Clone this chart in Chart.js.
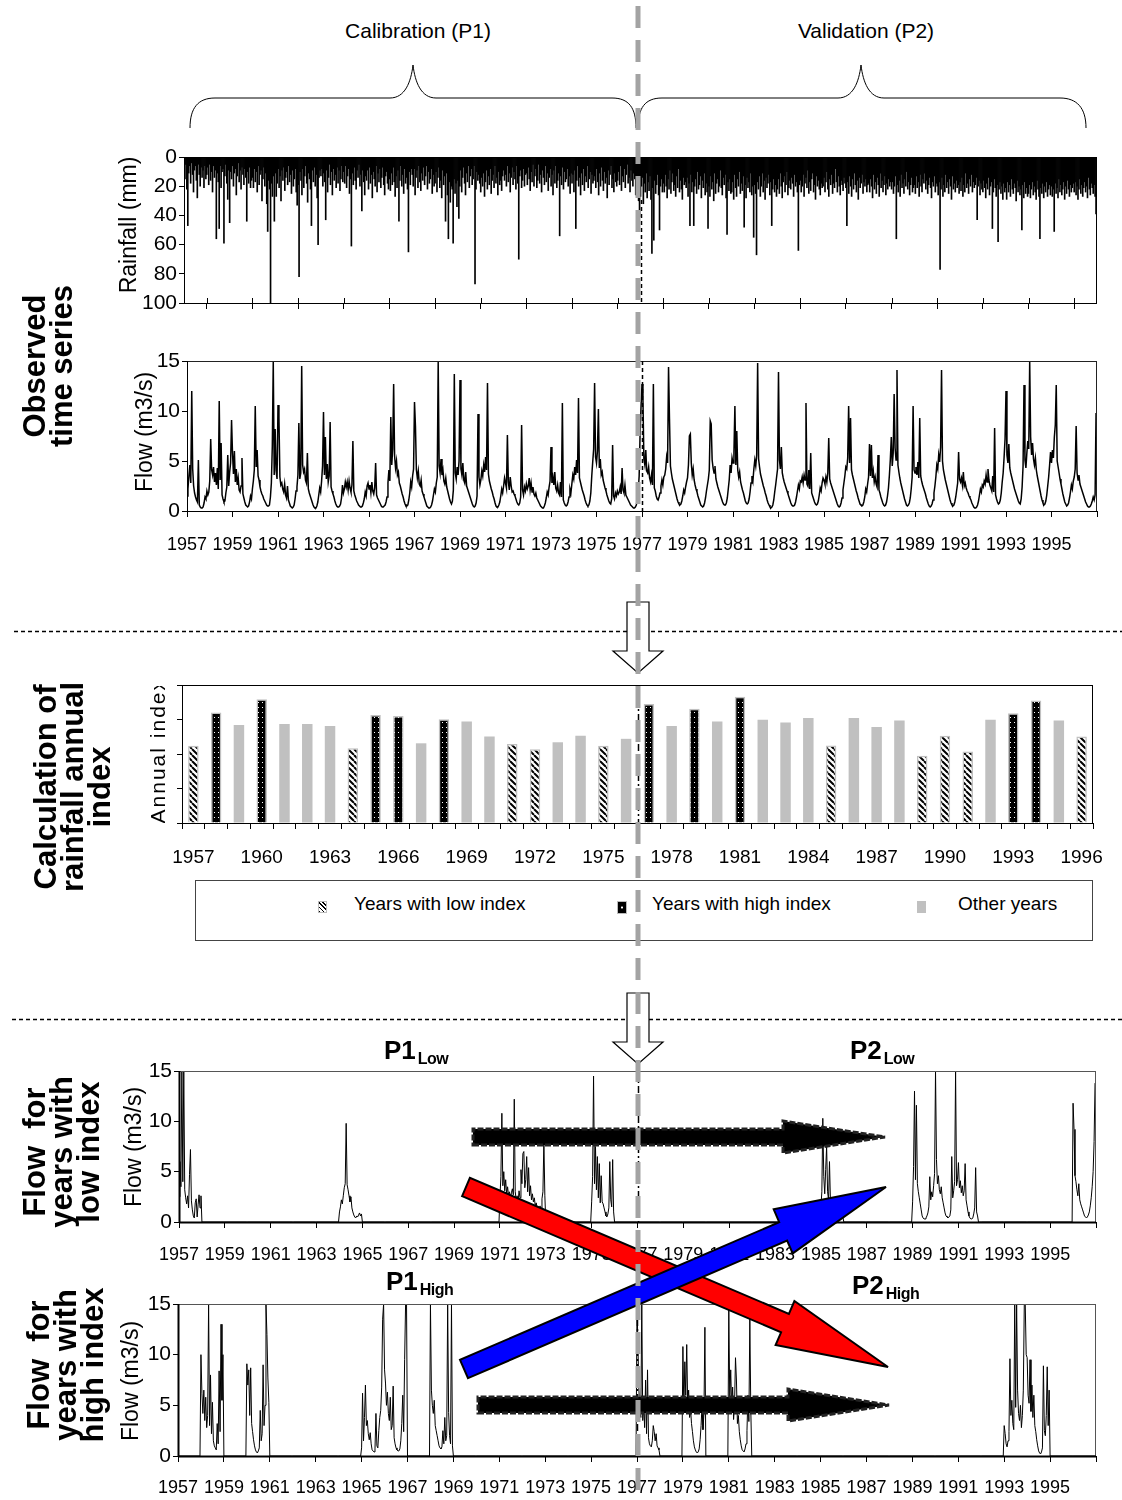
<!DOCTYPE html>
<html>
<head>
<meta charset="utf-8">
<script src="https://cdn.jsdelivr.net/npm/chart.js@4.4.1/dist/chart.umd.min.js"></script>
<style>
body { margin: 0; background: #fff; }
#page { position: relative; width: 1122px; height: 1500px; overflow: hidden; font-family: "Liberation Sans", Arial, sans-serif; color: #000; }
.box { position: absolute; left: 0; }
.txt { position: absolute; white-space: nowrap; }
.c { transform: translate(-50%, -50%); }
.rot { transform: translate(-50%, -50%) rotate(-90deg); text-align: center; }
.big { font-weight: bold; font-size: 31px; line-height: 27px; }
.ax { font-size: 23px; }
.top { font-size: 21px; }
.plab { font-weight: bold; font-size: 26px; line-height: 26px; }
.plab span { font-size: 16px; letter-spacing: -0.5px; position: relative; top: 5px; margin-left: 2px; }
#legend { position: absolute; left: 195px; top: 880px; width: 898px; height: 61px; box-sizing: border-box; border: 1px solid #444; }
#legend .sw { position: absolute; top: 20px; width: 9px; height: 12px; box-sizing: border-box; border: 1px solid #bbb; }
#legend .lt { position: absolute; top: 12px; font-size: 19px; }
#overlay { position: absolute; left: 0; top: 0; pointer-events: none; }
</style>
</head>
<body>
<div id="page">
  <div class="box" style="top:130px"><canvas id="rainChart" width="1122" height="190"></canvas></div>
  <div class="box" style="top:335px"><canvas id="flowChart" width="1122" height="230"></canvas></div>
  <div class="box" style="top:665px"><canvas id="indexChart" width="1122" height="215"></canvas></div>
  <div class="box" style="top:1040px"><canvas id="lowChart" width="1122" height="235"></canvas></div>
  <div class="box" style="top:1282px"><canvas id="highChart" width="1122" height="220"></canvas></div>

  <div class="txt c top" style="left:418px;top:31px">Calibration (P1)</div>
  <div class="txt c top" style="left:866px;top:31px">Validation (P2)</div>

  <div class="txt rot ax" style="left:128px;top:225px">Rainfall (mm)</div>
  <div class="txt rot ax" style="left:144px;top:432px">Flow (m3/s)</div>
  <div style="position:absolute;left:146px;top:686px;width:28px;height:137px;overflow:hidden">
    <div style="position:absolute;bottom:0;left:0;font-size:21px;writing-mode:vertical-rl;transform:rotate(180deg);letter-spacing:2px;white-space:nowrap">Annual index</div>
  </div>
  <div class="txt rot ax" style="left:133px;top:1147px">Flow (m3/s)</div>
  <div class="txt rot ax" style="left:130px;top:1381px">Flow (m3/s)</div>

  <div class="txt rot big" style="left:48px;top:366px">Observed<br>time series</div>
  <div class="txt rot big" style="left:72px;top:787px">Calculation of<br>rainfall annual<br>index</div>
  <div class="txt rot big" style="left:61px;top:1152px">Flow&nbsp;&nbsp;for<br>years with<br>low index</div>
  <div class="txt rot big" style="left:65px;top:1365px">Flow&nbsp;&nbsp;for<br>years with<br>high index</div>

  <div class="txt plab" style="left:384px;top:1037px">P1<span>Low</span></div>
  <div class="txt plab" style="left:850px;top:1037px">P2<span>Low</span></div>
  <div class="txt plab" style="left:386px;top:1268px">P1<span>High</span></div>
  <div class="txt plab" style="left:852px;top:1272px">P2<span>High</span></div>

  <div id="legend">
    <div class="sw" style="left:122px;background:repeating-linear-gradient(45deg,#000 0 1.2px,#fff 1.2px 3px)"></div>
    <div class="lt" style="left:158px">Years with low index</div>
    <div class="sw" style="left:421px;width:10px;height:13px;background:#000 radial-gradient(circle at 50% 50%,#fff 0 1px,#000 1.2px)"></div>
    <div class="lt" style="left:456px">Years with high index</div>
    <div class="sw" style="left:721px;background:#c0c0c0;border-color:#c0c0c0"></div>
    <div class="lt" style="left:762px">Other years</div>
  </div>

  <svg id="overlay" width="1122" height="1500"></svg>
</div>

<script>
// ---- data ----
const indexYears = [1957, 1958, 1959, 1960, 1961, 1962, 1963, 1964, 1965, 1966,
  1967, 1968, 1969, 1970, 1971, 1972, 1973, 1974, 1975, 1976,
  1977, 1978, 1979, 1980, 1981, 1982, 1983, 1984, 1985, 1986,
  1987, 1988, 1989, 1990, 1991, 1992, 1993, 1994, 1995, 1996];

// annual rainfall index (axis has no tick labels, read in tick units 0-4)
const indexValues = [2.24, 3.20, 2.84, 3.59, 2.87, 2.87, 2.81, 2.17, 3.13, 3.10,
  2.31, 3.01, 2.94, 2.51, 2.29, 2.14, 2.34, 2.53, 2.24, 2.44,
  3.45, 2.81, 3.31, 2.94, 3.66, 2.99, 2.91, 3.04, 2.25, 3.04,
  2.78, 2.97, 1.95, 2.53, 2.07, 2.99, 3.18, 3.55, 2.97, 2.51];

// L = low index, H = high index, O = other years
const indexClass = ['L', 'H', 'O', 'H', 'O', 'O', 'O', 'L', 'H', 'H',
  'O', 'H', 'O', 'O', 'L', 'L', 'O', 'O', 'L', 'O',
  'H', 'O', 'H', 'O', 'H', 'O', 'O', 'O', 'L', 'O',
  'O', 'O', 'L', 'L', 'L', 'O', 'H', 'H', 'O', 'L'];

const splitYear = 1977;
const xTickYears = [1957, 1959, 1961, 1963, 1965, 1967, 1969, 1971, 1973, 1975,
  1977, 1979, 1981, 1983, 1985, 1987, 1989, 1991, 1993, 1995];

// half-monthly rainfall maxima (mm), one row per year 1957-1996
const rainObserved = [
  "8 15 5 22 47 11 6 18 4 12 24 9 6 16 28 5 12 20 7 14 9 21 6 15",
  "12 7 19 5 16 10 24 6 14 9 56 11 17 49 6 21 10 8 59 13 5 18 29 9",
  "45 10 15 6 20 11 8 26 13 4 17 9 22 7 12 19 8 14 44 10 18 7 21 16",
  "14 21 8 17 10 24 6 19 12 9 30 15 7 20 11 32 51 16 22 100 18 27 13 44",
  "11 27 18 8 21 13 30 9 16 7 23 14 10 19 6 17 12 25 9 20 15 8 24 33",
  "19 82 10 16 26 8 21 13 6 18 31 11 15 22 47 9 17 7 20 12 28 60 14 9",
  "13 8 20 11 17 43 9 24 14 5 19 10 26 8 16 12 21 7 18 9 23 15 6 17",
  "10 18 6 21 13 8 25 15 61 11 19 7 16 22 9 14 5 20 12 37 9 17 26 13",
  "16 9 22 7 18 12 28 10 15 20 6 24 11 17 8 21 14 7 19 26 13 10 18 22",
  "15 23 11 19 7 17 27 13 21 9 44 16 6 20 12 25 8 18 14 22 65 10 19 8",
  "12 20 8 26 14 9 21 6 17 23 11 16 7 19 13 6 22 10 18 15 8 25 12 20",
  "18 10 24 14 7 21 16 28 9 19 13 44 11 26 56 17 31 20 22 59 15 25 18 34",
  "16 42 20 9 24 14 7 18 26 11 17 6 21 13 8 19 15 6 87 22 10 16 12 18",
  "24 14 20 11 27 17 9 22 13 19 8 25 16 12 21 6 18 14 26 10 19 16 23 13",
  "9 16 12 20 6 17 11 24 14 7 19 10 15 22 6 18 70 13 9 21 16 8 20 12",
  "11 19 7 15 23 10 17 5 20 13 8 21 16 5 18 12 24 9 14 19 6 17 11 23",
  "14 8 20 12 26 9 18 6 21 16 11 54 13 19 7 22 10 17 15 8 20 13 25 11",
  "18 12 24 9 49 16 6 20 14 26 11 19 8 23 13 17 6 21 15 10 25 12 18 16",
  "13 21 8 17 26 11 20 7 16 23 10 18 14 28 9 19 12 6 21 15 24 11 17 20",
  "16 10 19 6 23 13 17 8 21 12 5 18 14 24 9 16 20 11 15 26 18 23 30 41",
  "27 20 14 32 18 24 11 28 17 23 13 29 66 21 57 16 25 19 12 26 50 20 15 24",
  "18 24 12 20 28 15 22 9 25 17 11 23 19 27 13 21 8 24 16 22 29 14 19 17",
  "21 14 27 18 47 12 24 17 47 20 15 25 10 22 19 13 28 16 21 11 26 18 24 49",
  "20 27 13 22 17 30 11 25 18 15 24 20 9 21 26 14 19 12 28 53 17 23 15 25",
  "24 17 29 12 21 27 15 20 10 25 18 23 13 48 19 28 14 21 17 24 11 26 20 55",
  "19 25 67 17 22 13 27 20 11 24 16 29 14 21 18 12 26 17 47 22 15 24 19 27",
  "22 15 25 11 20 28 17 13 24 19 10 26 21 16 22 14 18 27 12 20 17 24 64 19",
  "16 24 20 12 27 18 14 21 9 25 17 23 15 11 24 19 29 13 20 16 22 26 18 21",
  "20 14 24 17 10 22 27 15 19 12 25 18 21 8 17 24 13 20 26 16 19 23 14 18",
  "21 47 17 25 13 20 27 15 22 11 19 24 16 29 14 21 18 12 25 17 20 15 24 19",
  "18 24 15 20 28 12 22 17 25 14 19 27 11 21 16 24 19 13 26 18 22 15 20 17",
  "22 17 25 20 13 56 19 24 16 27 12 21 18 25 15 20 10 22 17 26 19 14 24 21",
  "19 25 13 21 17 27 12 20 24 15 18 11 22 16 25 19 14 21 28 17 20 13 24 18",
  "20 26 17 77 22 14 27 19 24 12 21 17 25 15 20 29 13 22 18 24 16 21 19 25",
  "17 23 14 27 19 24 11 21 18 25 15 20 12 24 17 21 19 14 43 20 16 26 18 22",
  "24 16 21 28 18 22 14 26 20 17 49 24 15 21 27 19 58 22 17 25 20 29 18 24",
  "21 29 17 24 19 27 15 22 25 18 21 30 16 24 20 26 22 50 19 28 17 25 21 27",
  "25 19 28 22 17 26 20 24 29 16 22 27 56 21 25 18 28 20 24 17 27 22 19 26",
  "20 27 22 51 18 25 21 28 15 24 19 26 22 17 29 20 25 16 22 27 19 24 21 18",
  "24 17 26 20 29 22 15 25 19 27 21 17 24 20 28 14 22 26 18 21 25 19 27 39"
];

// half-monthly observed flow (m3/s), one row per year 1957-1996
const flowObserved = [
  "1.5 2.2 3.5 4.6 2.8 12.0 4.2 2.5 1.8 1.4 1.1 0.9 5.1 0.6 0.4 0.3 0.3 0.4 0.8 1.4 1.2 2.0 1.6 1.9",
  "3.0 7.2 4.1 3.6 4.4 2.9 3.8 2.6 4.3 2.2 11.0 3.1 6.8 1.6 1.2 0.9 1.0 1.8 2.4 5.6 2.5 3.9 4.8 9.1",
  "5.8 3.7 6.0 2.9 4.2 2.6 3.3 2.1 1.9 2.5 5.3 1.7 1.3 0.9 0.6 0.5 0.4 0.5 0.9 1.5 1.2 2.2 3.0 4.1",
  "10.5 4.4 6.1 3.5 3.1 2.4 2.0 1.7 1.5 1.2 1.0 0.8 0.6 0.5 0.5 0.6 1.4 2.8 6.5 14.9 3.6 8.2 4.0 3.2",
  "10.6 9.3 3.4 2.6 2.8 2.2 1.9 2.7 1.6 1.3 2.5 1.1 0.8 0.5 0.4 0.3 0.4 0.6 1.2 2.0 2.4 3.6 8.8 3.2",
  "3.8 14.5 4.6 3.9 4.2 3.1 2.8 5.8 2.2 1.8 1.5 1.2 0.9 0.6 0.4 0.3 0.3 0.5 0.9 1.6 2.3 1.9 3.0 4.5",
  "9.9 3.6 7.4 3.2 4.7 2.9 3.5 8.9 2.4 2.0 1.7 1.4 1.0 0.7 0.5 0.4 0.4 0.5 0.7 1.3 2.6 1.8 2.2 2.9",
  "2.4 2.9 2.1 3.0 2.3 1.9 2.6 7.0 2.0 1.6 1.3 1.0 0.8 0.6 0.5 0.4 0.4 0.5 0.8 1.2 1.9 1.5 2.5 2.8",
  "2.2 2.6 1.8 2.9 2.0 1.7 2.3 4.8 1.6 1.3 1.1 0.9 0.7 0.5 0.4 0.4 0.5 0.6 0.9 1.4 2.8 4.1 3.0 9.4",
  "4.6 6.2 12.7 5.5 4.3 5.0 3.6 3.9 2.8 2.5 2.1 1.7 1.4 1.0 0.7 0.5 0.5 0.6 1.1 1.8 2.9 2.4 3.5 4.2",
  "10.9 8.5 4.1 3.3 4.0 2.7 2.5 3.1 2.0 1.7 1.4 1.1 0.8 0.5 0.4 0.3 0.3 0.4 0.6 1.0 1.6 2.2 1.9 2.8",
  "3.4 14.9 4.5 3.8 5.2 3.6 4.1 3.0 2.7 3.3 2.4 2.0 1.6 1.2 0.9 0.7 1.0 2.1 13.7 3.8 3.2 4.4 3.6 5.0",
  "13.1 4.2 3.6 4.8 3.1 2.8 3.9 2.5 2.2 1.9 1.6 1.3 1.0 0.7 0.5 0.4 0.5 0.8 1.5 9.7 3.4 2.6 3.1 4.0",
  "3.5 4.6 3.9 5.4 4.1 12.8 3.7 3.0 2.6 2.2 1.9 1.5 1.2 0.8 0.5 0.4 0.4 0.6 0.9 1.5 2.2 1.8 2.5 3.3",
  "2.8 2.3 7.6 2.9 2.1 3.4 2.5 1.9 2.0 1.7 1.5 1.2 0.9 0.7 0.6 0.8 1.4 8.6 2.1 1.6 2.4 2.0 2.7 2.2",
  "2.5 3.3 2.1 2.8 1.9 2.4 1.7 1.5 1.8 1.3 1.1 0.9 0.7 0.5 0.4 0.3 0.3 0.5 0.8 1.3 1.9 1.6 2.4 3.0",
  "6.4 2.8 3.4 2.6 3.9 2.3 2.0 2.6 1.8 1.6 2.9 1.4 10.8 1.1 0.8 0.6 0.5 0.6 0.9 1.4 2.2 1.8 2.7 3.6",
  "3.2 4.4 3.6 5.1 3.8 11.3 3.3 2.9 2.5 2.1 1.8 1.5 1.1 0.8 0.6 0.5 0.6 1.0 1.8 3.5 4.9 6.2 12.8 5.4",
  "4.8 6.0 10.2 4.3 5.2 3.6 3.9 3.1 2.7 2.3 2.0 1.6 1.3 1.0 0.8 0.7 1.2 6.6 1.5 1.2 1.8 1.5 2.0 1.7",
  "1.9 2.4 1.7 4.3 2.1 1.8 2.6 1.6 1.4 1.2 1.0 0.8 0.6 0.5 0.4 0.3 0.3 0.4 0.6 1.1 2.0 3.5 7.8 10.5",
  "12.7 11.1 5.2 4.6 6.1 4.0 3.8 4.4 3.3 2.9 3.6 2.6 12.7 2.3 2.0 1.5 1.2 1.1 1.4 1.8 2.5 3.1 2.6 3.4",
  "3.6 4.2 5.4 4.8 14.4 9.2 4.5 3.8 3.2 2.8 2.4 2.0 1.6 1.2 0.9 0.7 0.6 0.7 1.0 1.5 2.1 1.8 2.4 2.9",
  "3.3 4.6 7.5 7.7 4.8 3.6 4.2 3.1 2.6 2.2 1.9 1.5 1.2 0.9 0.6 0.5 0.4 0.5 0.8 1.3 2.0 2.6 3.2 4.1",
  "9.0 8.7 5.1 4.3 3.8 4.5 3.2 2.8 2.4 2.1 1.8 1.5 1.2 0.9 0.7 0.6 0.6 0.8 1.3 2.2 3.1 4.6 3.8 5.3",
  "4.8 5.9 10.5 4.6 8.0 4.1 3.4 3.9 2.9 2.5 2.1 1.8 1.4 1.0 0.8 0.7 0.8 1.2 1.9 2.8 3.5 3.0 4.2 5.1",
  "4.5 5.6 14.8 5.2 4.4 3.7 3.3 2.9 2.5 2.2 1.8 1.5 1.1 0.8 0.6 0.4 0.3 0.4 0.6 1.1 1.9 2.6 3.4 4.2",
  "13.9 5.1 4.2 6.4 3.8 3.3 2.9 2.6 2.3 2.0 1.7 1.4 1.1 0.8 0.6 0.5 0.5 0.6 0.9 1.4 2.0 2.6 2.2 3.0",
  "2.9 3.4 2.8 3.6 3.1 10.8 2.7 2.5 4.1 2.2 5.8 1.8 1.5 1.2 0.9 0.7 0.6 0.7 1.0 1.6 2.3 2.0 2.8 3.3",
  "3.1 2.7 3.4 2.9 3.8 7.3 3.2 2.8 2.5 2.2 1.9 1.6 1.3 1.0 0.7 0.5 0.4 0.5 0.8 1.3 2.1 2.8 3.5 4.4",
  "4.2 5.3 10.5 4.8 9.3 4.1 3.6 3.2 2.8 2.4 2.0 1.7 1.3 1.0 0.7 0.6 0.5 0.6 0.9 1.4 2.2 1.9 2.7 3.4",
  "6.7 3.5 6.6 3.3 4.0 2.9 3.4 2.7 2.4 5.6 2.1 1.8 1.4 1.1 0.8 0.6 0.5 0.6 0.9 1.5 2.3 3.6 5.2 7.4",
  "4.5 5.8 11.7 6.3 5.1 14.1 4.6 3.9 3.3 2.8 2.4 2.0 1.6 1.2 0.9 0.6 0.5 0.6 0.8 1.3 2.2 3.4 10.5 4.1",
  "3.8 4.4 3.6 4.9 3.3 9.3 3.5 3.0 2.6 2.3 2.0 1.7 1.3 1.0 0.7 0.5 0.4 0.5 0.7 1.1 1.8 2.5 3.4 4.6",
  "4.2 5.6 4.9 6.4 14.1 5.0 4.1 3.6 3.1 2.7 2.3 1.9 1.5 1.1 0.8 0.6 0.5 0.6 0.9 1.4 2.1 2.8 5.9 3.2",
  "2.9 3.3 2.6 3.9 2.5 2.8 2.3 2.0 1.8 1.5 1.3 1.1 0.8 0.6 0.4 0.3 0.3 0.4 0.6 1.0 1.6 2.2 1.9 2.6",
  "2.4 3.0 2.7 3.6 2.9 4.2 3.1 2.6 2.3 2.0 3.5 1.9 8.3 1.6 1.2 0.9 0.7 0.8 1.1 1.8 2.9 3.8 5.4 7.2",
  "12.0 5.6 4.8 6.7 4.3 3.8 3.4 3.0 2.6 2.2 1.9 1.6 1.3 1.0 0.8 0.7 1.2 2.4 4.5 12.6 5.1 4.3 5.8 7.0",
  "6.2 14.9 7.4 5.6 6.8 5.2 4.6 5.3 4.1 3.5 3.0 2.5 2.0 1.5 1.1 0.8 0.6 0.7 1.0 1.6 2.5 3.4 4.6 5.9",
  "4.8 6.1 5.3 7.4 8.6 12.6 5.0 4.4 3.8 3.2 2.7 2.2 1.7 1.3 0.9 0.7 0.5 0.6 0.8 1.3 1.9 2.6 2.2 3.0",
  "3.4 4.2 8.5 3.8 3.1 3.6 2.7 2.4 2.1 1.8 1.5 1.2 0.9 0.7 0.5 0.4 0.4 0.5 0.7 1.0 1.4 1.1 1.6 9.8"
];

// flow kept only for the low-index years
const lowYears = [1957, 1964, 1971, 1972, 1975, 1985, 1989, 1990, 1991, 1996];
const lowFlow = [
  "2.5 6.0 3.5 15 4.0 15 3.2 2.4 1.8 2.6 1.4 4.7 7.2 2.1 1.2 0.6 0.4 1.9 2.3 0.5 1.7 2.7 1.4 2.6",
  "1.0 1.5 2.2 1.8 2.6 3.4 3.8 9.8 3.7 3.2 2.6 2.0 2.5 1.4 1.0 0.7 0.5 0.4 0.6 0.5 0.7 0.9 0.6 0.8",
  "2.5 4.5 10.8 3.6 5.0 3.1 4.2 2.8 3.5 2.6 3.0 2.4 2.9 3.3 2.7 12.2 3.0 2.2 2.6 2.0 3.1 2.4 5.2 3.8",
  "6.8 7.0 3.4 4.2 6.5 3.0 5.4 2.6 3.6 2.2 2.8 2.0 2.4 1.6 1.9 1.3 1.5 1.2 1.6 1.1 2.3 3.0 8.0 2.6",
  "2.0 4.5 14.5 3.8 7.5 3.2 6.5 2.4 5.8 1.9 4.6 2.0 1.8 1.4 1.0 0.6 0.5 0.8 1.4 6.0 2.2 1.5 6.2 1.0",
  "1.5 3.0 10.3 4.5 2.8 5.2 7.5 3.0 2.2 6.0 2.0 1.4 1.0 0.7 0.5 0.4 0.5 0.6 0.8 0.6 0.7 0.9 0.6 0.5",
  "2.0 5.5 13.0 4.2 11.6 3.8 3.0 2.4 1.8 1.2 0.6 0.4 0.3 0.3 0.4 0.6 0.9 1.5 4.5 2.2 3.0 2.5 3.6 4.8",
  "15 6.2 3.8 4.6 3.2 2.8 3.5 2.4 1.9 1.4 0.9 0.6 0.5 0.4 0.5 0.6 1.2 6.5 2.4 3.1 4.0 15 3.6 4.2",
  "5.9 3.4 4.1 2.9 3.6 2.6 3.1 5.8 2.2 1.6 1.0 0.6 0.4 0.3 0.3 0.4 0.8 1.4 5.4 1.0 0.6 0 0 0",
  "11.8 9.2 4.6 4.0 3.2 2.6 3.8 2.2 1.8 1.5 1.2 0.9 0.6 0.5 0.4 0.5 0.7 1.0 1.6 2.4 3.5 5.0 8.0 13.8"
];

// flow kept only for the high-index years
const highYears = [1958, 1960, 1965, 1966, 1968, 1977, 1979, 1981, 1993, 1994];
const highFlow = [
  "10.0 6.2 4.2 6.5 3.5 5.8 2.8 4.0 15 3.0 8.0 2.2 5.3 1.5 1.0 0.8 0.6 3.2 1.2 8.4 2.4 13.0 5.5 10.0",
  "9.1 7.0 8.5 4.0 8.7 3.2 2.4 1.6 1.0 0.6 0.4 0.3 0.5 0.8 4.5 1.5 2.2 9.0 3.0 5.0 15 12.0 7.7 5.3",
  "0.8 6.2 1.5 3.8 7.0 3.0 3.5 2.2 1.6 2.3 1.2 0.6 0.5 0.4 0.7 4.2 1.0 0.8 2.5 3.8 4.5 6.8 13.5 15",
  "8.5 7.2 5.0 6.3 4.2 3.5 5.8 2.6 3.0 6.9 1.8 1.2 0.8 0.6 0.5 0.5 0.7 1.5 3.2 6.0 2.4 9.5 15 15",
  "15 6.5 5.0 4.2 5.5 3.0 2.5 2.0 1.5 1.0 0.8 0.7 0.9 2.5 1.2 3.8 1.5 2.0 15 4.3 2.0 1.2 15 1.0",
  "15 15 6.5 4.5 3.8 15 3.5 5.0 2.8 7.5 2.2 8.5 1.8 1.2 1.0 0.9 1.5 3.0 2.4 1.5 2.2 1.0 0.8 0.6",
  "10.8 4.5 9.3 6.0 11.0 5.2 6.5 3.8 4.6 3.2 2.4 1.5 0.9 0.6 0.4 0.3 0.4 0.7 1.6 3.0 5.0 2.6 4.2 12.7",
  "14.5 5.5 8.5 4.8 6.8 3.6 5.0 9.7 7.5 3.2 4.0 2.4 1.6 1.0 0.6 0.5 0.4 0.7 1.2 2.5 6.0 3.4 13.5 4.6",
  "3.0 2.2 1.2 0.9 1.5 2.4 9.6 4.0 5.5 3.2 2.6 15 4.8 15 6.5 4.2 3.5 5.0 2.8 4.0 6.5 15 15 10.0",
  "9.7 6.0 5.2 9.5 4.4 7.0 3.8 6.0 3.0 2.4 1.6 1.0 0.5 0.3 0.2 0.4 0.8 8.9 2.5 2.0 4.0 8.8 3.0 6.5"
];

// ---- helpers ----
const NARROW = "'Liberation Sans Narrow', 'Liberation Sans', Arial, sans-serif";
const REG = "'Liberation Sans', Arial, sans-serif";

function parseRow(s) { return s.trim().split(/\s+/).map(Number); }

function yearPoints(rows) {
  const pts = [];
  indexYears.forEach((yr, k) => {
    const vals = parseRow(rows[k]);
    vals.forEach((v, i) => pts.push({ x: yr + i / vals.length, y: v }));
  });
  return pts;
}

function selectedPoints(selYears, rows) {
  const pts = [];
  indexYears.forEach(yr => {
    const k = selYears.indexOf(yr);
    if (k < 0) {
      pts.push({ x: yr, y: 0 }, { x: yr + 23 / 24, y: 0 });
    } else {
      const vals = parseRow(rows[k]);
      vals.forEach((v, i) => pts.push({ x: yr + i / vals.length, y: v }));
    }
  });
  return pts;
}

// outline round the plot area, thicker base line if asked
const framePlugin = {
  id: 'frame',
  afterDatasetsDraw(chart, args, o) {
    const { ctx, chartArea: a } = chart;
    ctx.save();
    ctx.strokeStyle = o.color || '#000';
    ctx.lineWidth = 1;
    ctx.strokeRect(Math.round(a.left) + 0.5, Math.round(a.top) + 0.5, Math.round(a.right - a.left) - 1, Math.round(a.bottom - a.top));
    ctx.strokeStyle = '#000';
    ctx.lineWidth = o.base || 1;
    ctx.beginPath();
    ctx.moveTo(a.left, Math.round(a.bottom) + 0.5);
    ctx.lineTo(a.right, Math.round(a.bottom) + 0.5);
    ctx.moveTo(Math.round(a.left) + 0.5, a.top);
    ctx.lineTo(Math.round(a.left) + 0.5, a.bottom);
    ctx.stroke();
    ctx.restore();
  }
};

// dashed black line at the calibration / validation split
const splitPlugin = {
  id: 'split',
  afterDatasetsDraw(chart, args, o) {
    if (o.value === undefined) return;
    const { ctx, chartArea: a } = chart;
    const x = Math.round(chart.scales.x.getPixelForValue(o.value)) + 0.5;
    ctx.save();
    ctx.strokeStyle = '#000';
    ctx.lineWidth = 1.5;
    ctx.setLineDash(o.dash || [4, 3]);
    ctx.beginPath();
    ctx.moveTo(x, a.top + (o.from || 0));
    ctx.lineTo(x, a.bottom);
    ctx.stroke();
    ctx.restore();
  }
};

// small inside ticks on even years
const minorTickPlugin = {
  id: 'minorTicks',
  afterDatasetsDraw(chart, args, o) {
    if (!o.on) return;
    const { ctx, chartArea: a } = chart;
    const sx = chart.scales.x;
    ctx.save();
    ctx.strokeStyle = '#000';
    ctx.lineWidth = 1;
    ctx.beginPath();
    for (let yr = 1958; yr <= 1996; yr += 2) {
      const x = Math.round(sx.getPixelForValue(yr)) + 0.5;
      ctx.moveTo(x, a.bottom);
      ctx.lineTo(x, a.bottom - 5);
    }
    ctx.stroke();
    ctx.restore();
  }
};

Chart.register(framePlugin, splitPlugin, minorTickPlugin);

function yearScale(plotBottomExtra, showLabels, labelPad) {
  return {
    type: 'linear', min: 1957, max: 1997, offset: false,
    afterBuildTicks: s => { s.ticks = xTickYears.concat([1997]).map(v => ({ value: v })); },
    ticks: {
      display: showLabels, autoSkip: false, maxRotation: 0, padding: labelPad,
      color: '#000', font: { family: NARROW, size: 18 },
      callback: v => (v === 1997 ? '' : String(v))
    },
    grid: { drawOnChartArea: false, tickLength: 6, color: '#000' },
    border: { display: false },
    afterFit: s => { s.height = plotBottomExtra; }
  };
}

function valueScale(left, max, step, extra) {
  return Object.assign({
    min: 0, max: max,
    ticks: { stepSize: step, color: '#000', font: { family: REG, size: 21 }, padding: 2 },
    grid: { drawOnChartArea: false, tickLength: 5, color: '#000' },
    border: { display: false },
    afterFit: s => { s.width = left; }
  }, extra || {});
}

const common = { responsive: false, animation: false, events: [] };

// ---- rainfall ----
new Chart(document.getElementById('rainChart'), {
  type: 'bar',
  data: { datasets: [{ data: yearPoints(rainObserved), backgroundColor: '#000', borderWidth: 0, barThickness: 1 }] },
  options: Object.assign({}, common, {
    layout: { padding: { top: 27, right: 25, left: 0, bottom: 0 } },
    plugins: {
      legend: { display: false }, tooltip: { enabled: false },
      frame: { color: '#000' }, split: { value: splitYear, from: 43 }, minorTicks: { on: true }
    },
    scales: {
      x: yearScale(17, false, 0),
      y: valueScale(184, 100, 20, { reverse: true })
    }
  })
});

// ---- observed flow ----
new Chart(document.getElementById('flowChart'), {
  type: 'line',
  data: { datasets: [{ data: yearPoints(flowObserved), borderColor: '#000', borderWidth: 1.5, pointRadius: 0, tension: 0 }] },
  options: Object.assign({}, common, {
    layout: { padding: { top: 26, right: 25, left: 0, bottom: 0 } },
    plugins: {
      legend: { display: false }, tooltip: { enabled: false },
      frame: { color: '#222' }, split: { value: splitYear }, minorTicks: { on: false }
    },
    scales: {
      x: yearScale(54, true, 17),
      y: valueScale(187, 15, 5)
    }
  })
});

// ---- annual index bars ----
function hatchPattern() {
  const c = document.createElement('canvas'); c.width = 6; c.height = 6;
  const g = c.getContext('2d');
  g.fillStyle = '#fff'; g.fillRect(0, 0, 6, 6);
  g.strokeStyle = '#000'; g.lineWidth = 2;
  g.beginPath();
  for (let k = -6; k <= 6; k += 6) { g.moveTo(k, 0); g.lineTo(k + 6, 6); }
  g.stroke();
  return g.createPattern(c, 'repeat');
}
function dotPattern() {
  const c = document.createElement('canvas'); c.width = 4; c.height = 5;
  const g = c.getContext('2d');
  g.fillStyle = '#000'; g.fillRect(0, 0, 4, 5);
  g.fillStyle = '#fff'; g.fillRect(2, 2, 1, 1);
  return g.createPattern(c, 'repeat');
}
const hatch = hatchPattern();
const dots = dotPattern();
const fillFor = { L: hatch, H: dots, O: '#c0c0c0' };

new Chart(document.getElementById('indexChart'), {
  type: 'bar',
  data: {
    labels: indexYears,
    datasets: [{
      data: indexValues,
      backgroundColor: indexClass.map(c => fillFor[c]),
      borderColor: '#c0c0c0',
      borderWidth: indexClass.map(c => (c === 'O' ? 0 : 1.5)),
      categoryPercentage: 1, barPercentage: 0.46
    }]
  },
  options: Object.assign({}, common, {
    layout: { padding: { top: 20, right: 29, left: 0, bottom: 0 } },
    plugins: {
      legend: { display: false }, tooltip: { enabled: false },
      frame: { color: '#000' }, split: { value: 19.5, dash: [7, 3, 2, 3], from: 14 }, minorTicks: { on: false }
    },
    scales: {
      x: {
        ticks: {
          autoSkip: false, maxRotation: 0, padding: 17, color: '#000', font: { family: NARROW, size: 19 },
          callback: (v, i) => (i % 3 === 0 ? String(indexYears[i]) : '')
        },
        grid: { drawOnChartArea: false, tickLength: 6, color: '#000', offset: true },
        border: { display: false },
        afterFit: s => { s.height = 57; }
      },
      y: {
        min: 0, max: 4,
        ticks: { stepSize: 1, display: false },
        grid: { drawOnChartArea: false, tickLength: 5, color: '#000' },
        border: { display: false },
        afterFit: s => { s.width = 182; }
      }
    }
  })
});

// ---- flow for low / high index years ----
function subsetChart(id, pts, left, top, extra, pad) {
  new Chart(document.getElementById(id), {
    type: 'line',
    data: { datasets: [{ data: pts, borderColor: '#000', borderWidth: 1, pointRadius: 0, tension: 0 }] },
    options: Object.assign({}, common, {
      layout: { padding: { top: top, right: 26, left: 0, bottom: 0 } },
      plugins: {
        legend: { display: false }, tooltip: { enabled: false },
        frame: { color: '#555', base: 2 }, split: { value: splitYear, dash: [7, 3, 2, 3] }, minorTicks: { on: false }
      },
      scales: {
        x: yearScale(extra, true, pad),
        y: valueScale(left, 15, 5)
      }
    })
  });
}
subsetChart('lowChart', selectedPoints(lowYears, lowFlow), 179, 31, 53, 16);
subsetChart('highChart', selectedPoints(highYears, highFlow), 178, 22, 46, 15);

// ---- overlay: braces, separators, arrows ----
function arrowPts(x0, y0, x1, y1, sw, hw, hl) {
  const dx = x1 - x0, dy = y1 - y0, L = Math.hypot(dx, dy);
  const ux = dx / L, uy = dy / L, nx = -uy, ny = ux;
  const bx = x1 - ux * hl, by = y1 - uy * hl;
  const p = [
    [x0 + nx * sw, y0 + ny * sw], [bx + nx * sw, by + ny * sw], [bx + nx * hw, by + ny * hw],
    [x1, y1], [bx - nx * hw, by - ny * hw], [bx - nx * sw, by - ny * sw], [x0 - nx * sw, y0 - ny * sw]
  ];
  return p.map(q => q[0].toFixed(1) + ',' + q[1].toFixed(1)).join(' ');
}

document.getElementById('overlay').innerHTML = `
  <path d="M190,128 C190,108 198,98 215,98 L390,98 C405,98 411,82 413,65 C415,82 421,98 436,98 L612,98 C629,98 636,108 636,128"
        fill="none" stroke="#000" stroke-width="1"/>
  <path d="M638,128 C638,108 645,98 662,98 L838,98 C853,98 859,82 861,65 C863,82 869,98 884,98 L1060,98 C1077,98 1086,108 1086,128"
        fill="none" stroke="#000" stroke-width="1"/>
  <line x1="14" y1="631.5" x2="1122" y2="631.5" stroke="#000" stroke-width="1.5" stroke-dasharray="4 3"/>
  <line x1="12" y1="1019.5" x2="1122" y2="1019.5" stroke="#000" stroke-width="1.5" stroke-dasharray="4 3"/>
  <polygon points="${arrowPts(473, 1137, 885, 1137, 8, 16, 102)}" fill="#000" stroke="#222" stroke-width="3" stroke-dasharray="6 2"/>
  <polygon points="${arrowPts(478, 1405, 889, 1405, 8, 16, 101)}" fill="#000" stroke="#222" stroke-width="3" stroke-dasharray="6 2"/>
  <polygon points="${arrowPts(466, 1187, 888, 1367, 10, 24, 112)}" fill="#ff0000" stroke="#000" stroke-width="2"/>
  <polygon points="${arrowPts(464, 1369, 886, 1187, 10, 24, 112)}" fill="#0000ff" stroke="#000" stroke-width="2"/>
  <polygon points="${arrowPts(638, 602, 638, 673, 11, 25, 22)}" fill="#fff" stroke="#000" stroke-width="1.2"/>
  <polygon points="${arrowPts(638, 993, 638, 1064, 11, 25, 22)}" fill="#fff" stroke="#000" stroke-width="1.2"/>
  <line x1="638" y1="6" x2="638" y2="1500" stroke="#a3a3a3" stroke-width="5" stroke-dasharray="22 12"/>
`;
</script>
</body>
</html>
